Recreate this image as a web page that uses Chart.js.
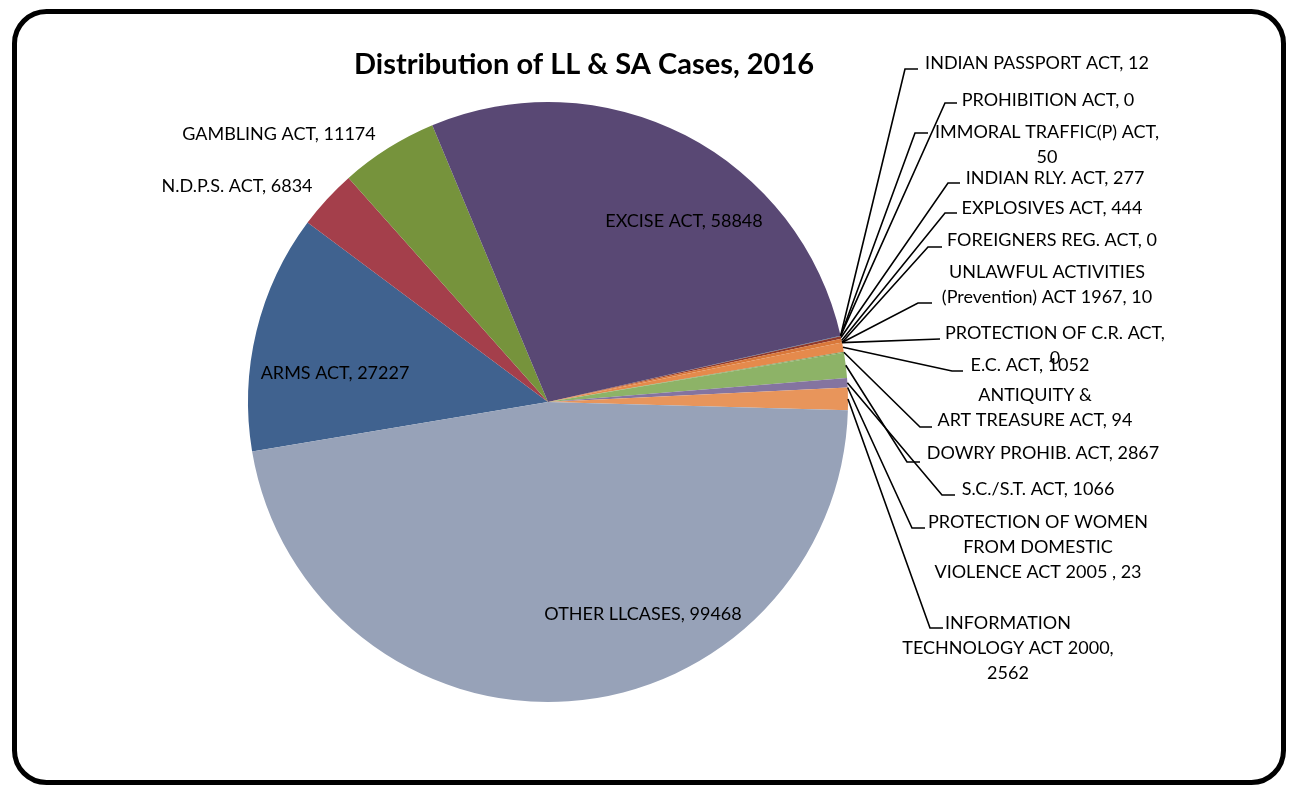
<!DOCTYPE html>
<html><head><meta charset="utf-8">
<script src="https://cdn.jsdelivr.net/npm/chart.js@4.4.0/dist/chart.umd.min.js"></script>
<style>html,body{margin:0;padding:0;background:#fff;overflow:hidden}#wrap{width:1296px;height:787px;position:relative}</style>
</head><body><div id="wrap"><canvas id="c" width="1296" height="787"></canvas></div>
<script>
const chartTitle = 'Distribution of LL & SA Cases, 2016';
const categories = [
  'ARMS ACT', 'N.D.P.S. ACT', 'GAMBLING ACT', 'EXCISE ACT',
  'INDIAN PASSPORT ACT', 'PROHIBITION ACT', 'IMMORAL TRAFFIC(P) ACT',
  'INDIAN RLY. ACT', 'EXPLOSIVES ACT', 'FOREIGNERS REG. ACT',
  'UNLAWFUL ACTIVITIES (Prevention) ACT 1967', 'PROTECTION OF C.R. ACT',
  'E.C. ACT', 'ANTIQUITY & ART TREASURE ACT', 'DOWRY PROHIB. ACT',
  'S.C./S.T. ACT', 'PROTECTION OF WOMEN FROM DOMESTIC VIOLENCE ACT 2005 ',
  'INFORMATION TECHNOLOGY ACT 2000', 'OTHER LLCASES'
];
const values = [27227, 6834, 11174, 58848, 12, 0, 50, 277, 444, 0, 10, 0, 1052, 94, 2867, 1066, 23, 2562, 99468];

const sliceColors = [
  '#40628f', '#a43f4b', '#76933c', '#594874',
  '#2f8aa3', '#e07b39', '#3b5f8c', '#8f3a2c', '#d9783a', '#5f7530',
  '#4d3b62', '#b65708', '#e58a4c', '#7d9a5a', '#8db367',
  '#8474a0', '#5aa8bf', '#e8955b', '#97a2b8'
];

// label placement (text centre, leader elbow, horizontal end, words per wrapped line)
const labelLayout = [
  {x:335, y:373},
  {x:237, y:186},
  {x:279, y:134},
  {x:684, y:221},
  {x:1037, y:63,  ex:905, ey:69,  hx:918},
  {x:1048, y:100, ex:945, ey:103, hx:957},
  {x:1047, y:132, ex:915, ey:133, hx:928, words:[3]},
  {x:1055, y:178, ex:948, ey:183, hx:960},
  {x:1052, y:208, ex:945, ey:213, hx:957},
  {x:1052, y:240, ex:928, ey:247, hx:942},
  {x:1047, y:272, ex:918, ey:303, hx:932, words:[2]},
  {x:1055, y:333, ex:940, ey:339, hx:940, words:[4]},
  {x:1030, y:365, ex:952, ey:371, hx:963},
  {x:1035, y:395, ex:920, ey:427, hx:932, words:[2]},
  {x:1043, y:453, ex:907, ey:462, hx:920},
  {x:1038, y:489, ex:942, ey:495, hx:955},
  {x:1038, y:522, ex:912, ey:528, hx:925, words:[3,2]},
  {x:1008, y:623, ex:930, ey:628, hx:943, words:[1,3]},
  {x:643, y:614}
];

const LABEL_FONT = '18px Lato';
const TITLE_FONT = 'bold 29px Lato';
const LINE_H = 25;

function wrapWords(text, counts) {
  const w = text.split(/\s+/).filter(s => s.length);
  if (!counts) return [w.join(' ')];
  const out = []; let i = 0;
  for (const c of counts) { out.push(w.slice(i, i + c).join(' ')); i += c; }
  if (i < w.length) out.push(w.slice(i).join(' '));
  return out;
}

const decorPlugin = {
  id: 'decor',
  afterDraw(chart) {
    const ctx = chart.ctx;
    ctx.save();
    // frame
    ctx.strokeStyle = '#000'; ctx.lineWidth = 5;
    ctx.beginPath();
    ctx.roundRect(14.5, 11.5, 1269, 771, 32);
    ctx.stroke();
    // title
    ctx.fillStyle = '#000';
    ctx.font = TITLE_FONT; ctx.textAlign = 'center'; ctx.textBaseline = 'middle';
    ctx.fillText(chartTitle, 584, 65);
    // labels
    const meta = chart.getDatasetMeta(0);
    ctx.font = LABEL_FONT;
    meta.data.forEach((arc, i) => {
      const L = labelLayout[i];
      const p = arc.getProps(['x', 'y', 'startAngle', 'endAngle', 'outerRadius'], true);
      const mid = (p.startAngle + p.endAngle) / 2;
      const ax = p.x + Math.cos(mid) * p.outerRadius;
      const ay = p.y + Math.sin(mid) * p.outerRadius;
      if (L.ex !== undefined) {
        ctx.strokeStyle = '#000'; ctx.lineWidth = 1.6;
        ctx.beginPath();
        ctx.moveTo(ax, ay);
        ctx.lineTo(L.ex, L.ey);
        ctx.lineTo(L.hx, L.ey);
        ctx.stroke();
      }
      const text = categories[i] + ', ' + values[i];
      const lines = wrapWords(text, L.words);
      ctx.fillStyle = '#000';
      lines.forEach((ln, k) => ctx.fillText(ln, L.x, L.y + k * LINE_H));
    });
    ctx.restore();
  }
};

new Chart(document.getElementById('c'), {
  type: 'pie',
  data: {
    labels: categories,
    datasets: [{ data: values, backgroundColor: sliceColors, borderWidth: 0, hoverOffset: 0 }]
  },
  options: {
    responsive: false,
    animation: false,
    rotation: 260.5,
    layout: { padding: { left: 248, right: 448, top: 102, bottom: 85 } },
    plugins: { legend: { display: false }, tooltip: { enabled: false }, title: { display: false } },
    events: []
  },
  plugins: [decorPlugin]
});
</script>
</body></html>
